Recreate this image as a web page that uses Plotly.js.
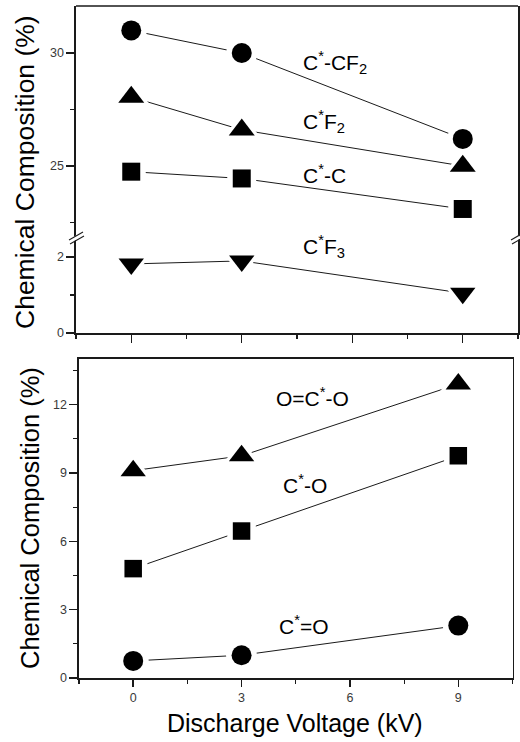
<!DOCTYPE html>
<html><head><meta charset="utf-8">
<script src="https://cdn.plot.ly/plotly-3.0.1.min.js"></script>
<style>html,body{margin:0;padding:0;background:#fff}#chart{width:520px;height:742px}</style>
</head><body><div id="chart"></div>
<script>
// ---- data ----
var voltage = [0, 3, 9];
var cCF2 = [31.0, 30.0, 26.2];   // C*-CF2  (circles, top)
var cF2  = [28.05, 26.6, 25.0];  // C*F2    (triangles up, top)
var cC   = [24.75, 24.45, 23.1]; // C*-C    (squares, top)
var cF3  = [1.82, 1.9, 1.05];    // C*F3    (triangles down, top lower segment)
var oco  = [9.1, 9.75, 12.9];    // O=C*-O  (triangles, bottom)
var cO   = [4.8, 6.45, 9.75];    // C*-O    (squares, bottom)
var cdO  = [0.75, 1.0, 2.3];     // C*=O    (circles, bottom)
var seriesLabels = ['C<sup>*</sup>-CF<sub>2</sub>', 'C<sup>*</sup>F<sub>2</sub>', 'C<sup>*</sup>-C', 'C<sup>*</sup>F<sub>3</sub>',
                    'O=C<sup>*</sup>-O', 'C<sup>*</sup>-O', 'C<sup>*</sup>=O'];
var yTitle = 'Chemical Composition (%)';
var xTitle = 'Discharge Voltage (kV)';

// ---- layout helpers (pixel -> paper) ----
var W = 520, H = 742;
function PX(p){ return p / W; }
function PY(p){ return 1 - p / H; }
var FONT = 'Arial, "Liberation Sans", sans-serif';
var INK = '#1a1a1a';

var series = [
  {y: cCF2, xa: 'x',  ya: 'y',  sym: 'circle',        size: 20},
  {y: cF2,  xa: 'x',  ya: 'y',  sym: 'triangle-up',   size: 22.5},
  {y: cC,   xa: 'x',  ya: 'y',  sym: 'square',        size: 18},
  {y: cF3,  xa: 'x',  ya: 'y2', sym: 'triangle-down', size: 22},
  {y: oco,  xa: 'x2', ya: 'y3', sym: 'triangle-up',   size: 22},
  {y: cO,   xa: 'x2', ya: 'y3', sym: 'square',        size: 17.5},
  {y: cdO,  xa: 'x2', ya: 'y3', sym: 'circle',        size: 20}
];

var traces = [];
series.forEach(function(s){
  traces.push({x: voltage, y: s.y, xaxis: s.xa, yaxis: s.ya, mode: 'lines',
    line: {color: INK, width: 1}, hoverinfo: 'skip', showlegend: false});
});
series.forEach(function(s){
  traces.push({x: voltage, y: s.y, xaxis: s.xa, yaxis: s.ya, mode: 'markers',
    marker: {symbol: s.sym, size: s.size + 11, color: '#ffffff', line: {width: 0}},
    hoverinfo: 'skip', showlegend: false});
});
series.forEach(function(s){
  traces.push({x: voltage, y: s.y, xaxis: s.xa, yaxis: s.ya, mode: 'markers',
    marker: {symbol: s.sym, size: s.size, color: '#000000', line: {width: 0}},
    showlegend: false});
});

var tickFont = {family: FONT, size: 12.5, color: '#3a3a3a'};
function axisBase(){
  return {showline: true, linecolor: INK, linewidth: 1.6, ticks: 'outside', ticklen: 8,
    tickwidth: 1.4, tickcolor: INK, showgrid: false, zeroline: false, tickfont: tickFont,
    fixedrange: true};
}
var xa = axisBase(); Object.assign(xa, {domain: [PX(76), PX(518)], range: [-1.5, 10.5], anchor: 'y2',
  tickmode: 'linear', tick0: 0, dtick: 3, showticklabels: false, ticklen: 8,
  minor: {dtick: 1.5, ticks: 'outside', ticklen: 4, tickwidth: 1.2, tickcolor: INK}});
var ya = axisBase(); Object.assign(ya, {domain: [PY(237), PY(6)], range: [21.86, 32.08], anchor: 'x',
  tickmode: 'linear', tick0: 0, dtick: 5, mirror: true,
  minor: {dtick: 2.5, ticks: 'outside', ticklen: 4, tickwidth: 1.2, tickcolor: INK}});
var ya2 = axisBase(); Object.assign(ya2, {domain: [PY(333), PY(237)], range: [0, 2.53], anchor: 'x',
  tickmode: 'linear', tick0: 0, dtick: 2, mirror: true,
  minor: {dtick: 1, ticks: 'outside', ticklen: 4, tickwidth: 1.2, tickcolor: INK}});
var xa2 = axisBase(); Object.assign(xa2, {domain: [PX(79), PX(512.5)], range: [-1.5, 10.5], anchor: 'y3',
  tickmode: 'linear', tick0: 0, dtick: 3, mirror: true, ticklen: 7,
  minor: {dtick: 1.5, ticks: 'outside', ticklen: 4, tickwidth: 1.2, tickcolor: INK}});
var ya3 = axisBase(); Object.assign(ya3, {domain: [PY(678), PY(359)], range: [0, 14], anchor: 'x2',
  tickmode: 'linear', tick0: 0, dtick: 3, mirror: true,
  minor: {dtick: 1.5, ticks: 'outside', ticklen: 4, tickwidth: 1.2, tickcolor: INK}});

var labelPos = [[301, 62], [301, 122], [301, 174], [301, 246], [274, 397], [281, 484], [277, 625]];
var annFont = {family: FONT, size: 21, color: '#000'};
var annotations = seriesLabels.map(function(t, i){
  return {text: t, xref: 'paper', yref: 'paper', x: PX(labelPos[i][0]), y: PY(labelPos[i][1]),
    xanchor: 'left', yanchor: 'middle', showarrow: false, font: annFont};
});
annotations.push({text: yTitle, textangle: -90, xref: 'paper', yref: 'paper', x: PX(25), y: PY(172),
  xanchor: 'center', yanchor: 'middle', showarrow: false, font: {family: FONT, size: 26.5, color: '#000'}});
annotations.push({text: yTitle, textangle: -90, xref: 'paper', yref: 'paper', x: PX(30), y: PY(518),
  xanchor: 'center', yanchor: 'middle', showarrow: false, font: {family: FONT, size: 25.5, color: '#000'}});
annotations.push({text: xTitle, xref: 'paper', yref: 'paper', x: PX(295), y: PY(723),
  xanchor: 'center', yanchor: 'middle', showarrow: false, font: {family: FONT, size: 25, color: '#000'}});

function ln(x0, y0, x1, y1, col, w){
  return {type: 'line', xref: 'paper', yref: 'paper', x0: PX(x0), y0: PY(y0), x1: PX(x1), y1: PY(y1),
    line: {color: col, width: w}, layer: 'above'};
}
var shapes = [
  ln(76, 6, 518, 6, INK, 1.6),               // top border of upper panel
  // left axis break
  ln(69.5, 241.5, 83.5, 233.5, '#fff', 4),
  ln(69, 240, 83, 232, INK, 1.1),
  ln(70, 244, 84, 236, INK, 1.1),
  // right axis break
  ln(511.5, 241.5, 520, 236.5, '#fff', 4),
  ln(511, 240, 520, 234.8, INK, 1.1),
  ln(512, 244, 520, 239.4, INK, 1.1)
];

var layout = {
  width: W, height: H, margin: {l: 0, r: 0, t: 0, b: 0},
  paper_bgcolor: '#fff', plot_bgcolor: 'rgba(0,0,0,0)', showlegend: false,
  xaxis: xa, yaxis: ya, yaxis2: ya2, xaxis2: xa2, yaxis3: ya3,
  annotations: annotations, shapes: shapes, font: {family: FONT}
};
Plotly.newPlot('chart', traces, layout, {staticPlot: true, displayModeBar: false});
</script></body></html>
